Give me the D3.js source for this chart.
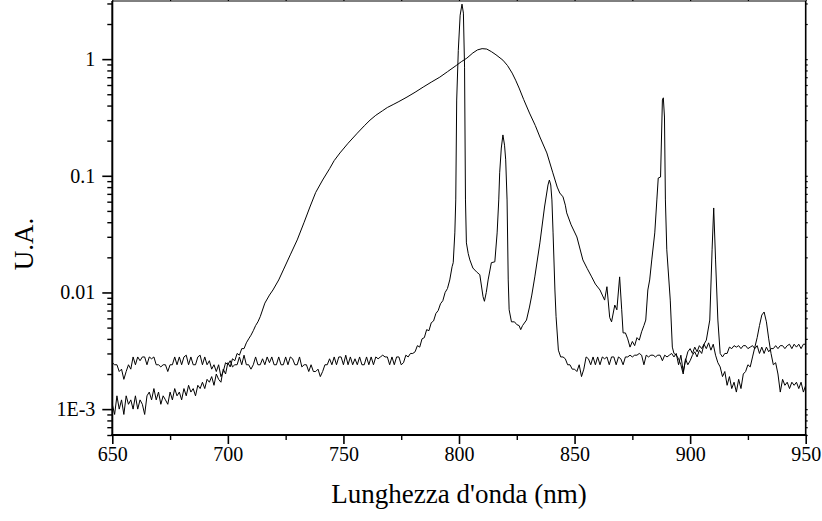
<!DOCTYPE html>
<html><head><meta charset="utf-8">
<script src="https://cdn.jsdelivr.net/npm/d3@7"></script>
<style>
body{margin:0;background:#fff}
svg{display:block}
text{font-family:"Liberation Serif","Times New Roman",serif !important;fill:#000}
</style>
</head><body>
<svg id="c" width="822" height="521"></svg>
<script>
// ---------------- DATA ----------------
const UNIT = 1e-4;              // series values below are in units of 1e-4 U.A.
const xMajorTicks = [650, 700, 750, 800, 850, 900, 950];
const xMinorTicks = [675, 725, 775, 825, 875, 925];
const yTickValues = [1e-3, 1e-2, 1e-1, 1];
const yTickLabels = ["1E-3", "0.01", "0.1", "1"];
const xTitle = "Lunghezza d'onda (nm)";
const yTitle = "U.A.";

// Series 1 : broad band (1 nm sampled noisy start)
const s1NoiseStart = 650;
const s1Noise = [11,9,13,10,12,9,13,11,12,10,13,10,12,11,9,13,14,12,15,12,14,11,13,12,11,14,12,15,13,14,
  12,15,13,16,14,15,13,16,15,17,15,18,17,19,16,20,18,17,22,20,25,23,27,26,30,29,33,33,37,40,43,47,52,56];
const s1BandNm = [714,716,718,719.5,722,724,727,730,733,735.5,738,741,744,746,748.5,752,756,759,761.5,764,767,769,
  771.5,774,777.5,781,784.5,788,791.7,795,799,801,803.4,806,808,810,812,814,816,819,821,823,824.5,826,828,830.5,
  833,835,838,840.6,842.5,843.6,845,846,846.6,848.5,851,853.6,855.5,857.4,859,861,862,863,864,865.2,866,867.4,
  868.3,869.5,870.4,871,872,873,874,875,876,877,878,879,880,880.8,881.7,882.5,883.4,884.7,885.6,886.2,887.2,888,
  888.4,888.9,889.3,889.9,891.4,892.3];
const s1BandVal = [62,81,95,105,128,156,210,282,400,540,720,920,1150,1350,1570,1900,2320,2680,3000,3300,3620,3850,
  4080,4330,4730,5200,5760,6350,7010,7800,8880,9500,10200,11300,12000,12300,12200,11600,10900,9800,8800,7590,6600,5650,4500,3450,
  2700,2150,1570,1060,800,712,660,560,481,380,299,190,160,136,118,105,95,86,112,61,56,78,
  71,136,71,45,45,40,34,38,35,41,39,46,52,58,105,128,190,324,621,957,976,4460,
  4660,3190,621,232,86,34];
const s1TailStart = 893;
const s1Tail = [30,29,27,24,20,27,24,26,29,31,28,32,30,36,33,37,32,36,29,25,23,19,21,16,19,15,17,14,18,15,
  20,21,24,23,28,34,41,52,64,68,56,40,30,24,25,20,14,18,16,17,15,17,16,17,15,17,14,16];

// Series 2 : line spectrum
const s2BaseStart = 650;
const s2Base = [25,24,24,21,22,18,21,24,22,28,24,28,26,28,28,24,28,27,28,24,24,23,24,24,21,24,24,28,24,28,
  24,28,29,24,28,24,24,28,29,24,28,24,26,22,24,21,24,19,21,25,24,26,23,24,24,28,24,29,24,24,
  22,24,28,24,24,27,24,28,25,28,24,24,28,24,24,28,24,28,27,24,24,28,23,24,24,21,24,21,21,22,
  19,21,24,24,27,24,28,24,28,28,24,29,24,28,24,27,24,28,24,24,28,24,28,24,28,27,28,29,28,28,
  24,28,24,28,28,24,25,29,28,30];
const s2LinesNm = [780,781,782,783,784,785,786,787,788,789,790,791,792,793,794,795,796,797,797.5,798.2,798.6,799,
  799.7,800.5,801.3,801.9,802.4,802.8,803.2,804,804.7,806,807.6,809,810.4,811,811.8,812.6,814,815.5,816.5,817.2,
  817.6,818.3,819,819.7,820.2,820.8,821.3,821.7,822.7,824,825,826,826.7,827.5,829.2,830.5,831.5,832.8,835,837,
  838.5,839.1,839.7,840.2,840.7,841.5,842,843,844];
const s2LinesVal = [30,31,35,34,40,41,48,47,55,57,66,70,80,85,100,108,128,166,180,324,621,4460,
  11900,23800,29600,24800,8540,621,266,215,190,162,150,142,92,84,100,128,180,183,324,621,
  1060,1730,2240,1830,1370,621,128,71,56,56,53,52,48,52,58,75,95,136,266,540,
  834,920,834,621,324,105,62,32,28];
const s2Base2Start = 845;
const s2Base2 = [28,27,24,24,22,22,21,24,19,22,28,27,24,28,24,28,24,28,27,28,24,28,28,24,28,27,24,28,28,29,
  28,29,29,30,29,24,29,28,29,29,28,29,29,26,29,28,29,30,28,30,24,29,21,26,31,33,30,34,31,35,33,36,39];
const s2PeakNm = [908.5, 909.5, 910.2, 911, 912];
const s2PeakVal = [58, 232, 530, 190, 58];
const s2Base3Start = 913;
const s2Base3 = [30,28,30,30,34,33,35,34,35,33,35,35,33,34,35,33,35,30,34,30,34,31,33,33,35,33,35,35,33,35,
  36,33,36,34,36,33,36,36];

// ---------------- CHART ----------------
const FONT = "'Liberation Serif', 'Times New Roman', serif";
const plot = {left: 112.3, right: 805.7, top: 1, bottom: 435};
const svg = d3.select("#c");
const x = d3.scaleLinear().domain([650, 950]).range([plot.left, plot.right]);
const y = d3.scaleLog().domain([6e-4, 3.15]).range([plot.bottom, plot.top]);

const regular = (start, vals) => vals.map((v, i) => [start + i, v * UNIT]);
const paired = (nm, vals) => nm.map((n, i) => [n, vals[i] * UNIT]);

const series1 = [].concat(regular(s1NoiseStart, s1Noise), paired(s1BandNm, s1BandVal), regular(s1TailStart, s1Tail));
const series2 = [].concat(regular(s2BaseStart, s2Base), paired(s2LinesNm, s2LinesVal),
  regular(s2Base2Start, s2Base2), paired(s2PeakNm, s2PeakVal), regular(s2Base3Start, s2Base3));

svg.append("defs").append("clipPath").attr("id", "clip").append("rect")
  .attr("x", plot.left).attr("y", plot.top).attr("width", plot.right - plot.left).attr("height", plot.bottom - plot.top);

const line = d3.line().x(d => x(d[0])).y(d => y(d[1]));
const g = svg.append("g").attr("clip-path", "url(#clip)");
[series1, series2].forEach(s => {
  g.append("path").datum(s).attr("d", line)
    .attr("fill", "none").attr("stroke", "#000").attr("stroke-width", 1).attr("stroke-linejoin", "round");
});

// axes
const yMinor = y.ticks().filter(v => !yTickValues.some(t => Math.abs(t - v) / t < 1e-6));
function styleAxis(sel, w) {
  sel.attr("font-family", FONT);
  sel.select(".domain").remove();
  sel.selectAll(".tick line").attr("stroke", "#000").attr("stroke-width", w);
}
// left
svg.append("g").attr("transform", `translate(${plot.left},0)`)
  .call(d3.axisLeft(y).tickValues(yTickValues).tickSize(10).tickPadding(7)
    .tickFormat((d, i) => yTickLabels[i]))
  .call(s => styleAxis(s, 1.6))
  .selectAll("text").attr("font-size", 20).style("font-family", FONT);
svg.append("g").attr("transform", `translate(${plot.left},0)`)
  .call(d3.axisLeft(y).tickValues(yMinor).tickSize(5).tickFormat(""))
  .call(s => styleAxis(s, 1.4));
// right
svg.append("g").attr("transform", `translate(${plot.right},0)`)
  .call(d3.axisRight(y).tickValues(yTickValues.concat(yMinor)).tickSize(2).tickFormat(""))
  .call(s => styleAxis(s, 1.2));
// bottom
svg.append("g").attr("transform", `translate(0,${plot.bottom})`)
  .call(d3.axisBottom(x).tickValues(xMajorTicks).tickSize(9).tickPadding(3).tickFormat(d3.format("d")))
  .call(s => styleAxis(s, 1.6))
  .selectAll("text").attr("font-size", 20).style("font-family", FONT);
svg.append("g").attr("transform", `translate(0,${plot.bottom})`)
  .call(d3.axisBottom(x).tickValues(xMinorTicks).tickSize(5).tickFormat(""))
  .call(s => styleAxis(s, 1.4));
// top
svg.append("g").attr("transform", `translate(0,${plot.top})`)
  .call(d3.axisTop(x).tickValues(xMajorTicks.concat(xMinorTicks)).tickSize(3).tickFormat(""))
  .call(s => styleAxis(s, 1.2));

// frame
const frame = svg.append("g").attr("stroke", "#000").attr("fill", "none");
frame.append("line").attr("x1", plot.left).attr("x2", plot.right).attr("y1", plot.top).attr("y2", plot.top).attr("stroke-width", 1);
frame.append("line").attr("x1", plot.right).attr("x2", plot.right).attr("y1", plot.top).attr("y2", plot.bottom).attr("stroke-width", 1.6);
frame.append("line").attr("x1", plot.left).attr("x2", plot.left).attr("y1", plot.top).attr("y2", plot.bottom).attr("stroke-width", 2);
frame.append("line").attr("x1", plot.left - 1).attr("x2", plot.right + 0.8).attr("y1", plot.bottom).attr("y2", plot.bottom).attr("stroke-width", 2);

// titles
svg.append("text").attr("x", (plot.left + plot.right) / 2).attr("y", 503)
  .attr("text-anchor", "middle").attr("font-size", 27).style("font-family", FONT).text(xTitle);
svg.append("text").attr("transform", "translate(33,244) rotate(-90)")
  .attr("text-anchor", "middle").attr("font-size", 27).style("font-family", FONT).text(yTitle);
</script>
</body></html>
